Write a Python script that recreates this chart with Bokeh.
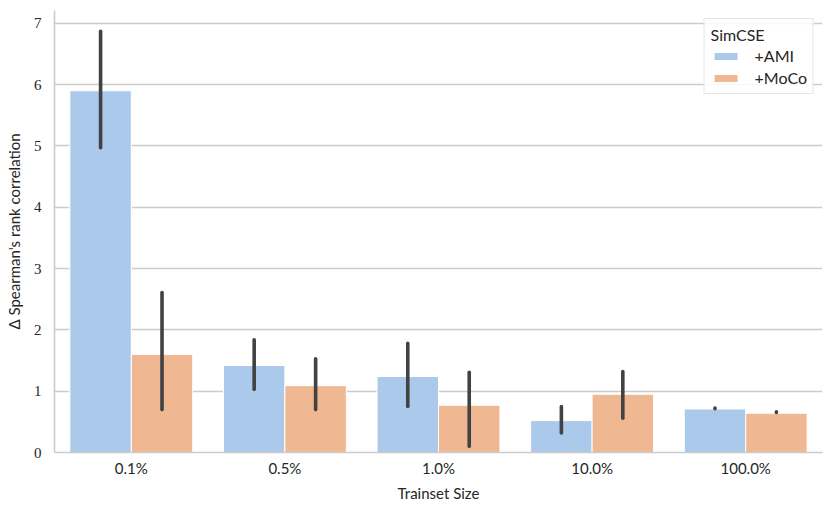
from bokeh.plotting import figure
from bokeh.models import ColumnDataSource, FactorRange, Range1d, Legend, LegendItem, FixedTicker
from bokeh.transform import dodge
from bokeh.embed import file_html
from bokeh.resources import INLINE

sizes = ["0.1%", "0.5%", "1.0%", "10.0%", "100.0%"]
ami_mean = [5.90, 1.42, 1.24, 0.52, 0.71]
ami_lo = [4.97, 1.03, 0.75, 0.32, 0.715]
ami_hi = [6.87, 1.84, 1.78, 0.75, 0.725]
moco_mean = [1.60, 1.09, 0.77, 0.95, 0.64]
moco_lo = [0.70, 0.70, 0.10, 0.56, 0.652]
moco_hi = [2.61, 1.53, 1.31, 1.32, 0.662]
y_ticks = [0, 1, 2, 3, 4, 5, 6, 7]

AMI_COLOR = "#abc9ea"
MOCO_COLOR = "#efb892"
ERR_COLOR = "#424242"
GRID = "#cccccc"
SANS = "Lato"
SERIF = "Liberation Serif"

src = ColumnDataSource(dict(size=sizes, ami=ami_mean, ami_lo=ami_lo, ami_hi=ami_hi,
                            moco=moco_mean, moco_lo=moco_lo, moco_hi=moco_hi))

p = figure(x_range=FactorRange(*sizes, range_padding=0), y_range=Range1d(0, 7.21),
           frame_width=768, frame_height=442, output_backend="svg", toolbar_location=None,
           min_border_left=54, min_border_right=1, min_border_top=10, min_border_bottom=45)

r_ami = p.vbar(x=dodge("size", -0.2, range=p.x_range), top="ami", width=0.4, source=src,
               fill_color=AMI_COLOR, line_color="white", line_width=1)
r_moco = p.vbar(x=dodge("size", 0.2, range=p.x_range), top="moco", width=0.4, source=src,
                fill_color=MOCO_COLOR, line_color="white", line_width=1)
p.segment(x0=dodge("size", -0.2, range=p.x_range), y0="ami_lo",
          x1=dodge("size", -0.2, range=p.x_range), y1="ami_hi", source=src,
          line_color=ERR_COLOR, line_width=3.6, line_cap="round")
p.segment(x0=dodge("size", 0.2, range=p.x_range), y0="moco_lo",
          x1=dodge("size", 0.2, range=p.x_range), y1="moco_hi", source=src,
          line_color=ERR_COLOR, line_width=3.6, line_cap="round")

p.outline_line_color = None
p.xgrid.grid_line_color = None
p.ygrid.grid_line_color = GRID
p.ygrid.grid_line_width = 1.3
p.yaxis.ticker = FixedTicker(ticks=y_ticks)

for ax in (p.xaxis[0], p.yaxis[0]):
    ax.axis_line_color = GRID
    ax.axis_line_width = 1.6
    ax.major_tick_line_color = None
    ax.minor_tick_line_color = None
    ax.major_tick_out = 0
    ax.major_tick_in = 0
    ax.major_label_text_color = "#262626"
    ax.axis_label_text_color = "#262626"
    ax.axis_label_text_font_style = "normal"
    ax.axis_label_text_font = SANS
    ax.axis_label_text_font_size = "15px"

p.xaxis.major_label_text_font = SANS
p.xaxis.major_label_text_font_size = "15px"
p.xaxis.major_label_standoff = 6
p.xaxis.axis_label = "Trainset Size"
p.xaxis.axis_label_standoff = 4

p.yaxis.major_label_text_font = SERIF
p.yaxis.major_label_text_font_size = "15px"
p.yaxis.major_label_standoff = 13
p.yaxis.axis_label = "Δ Spearman's rank correlation"
p.yaxis.axis_label_standoff = 8

legend = Legend(items=[LegendItem(label="+AMI", renderers=[r_ami]),
                       LegendItem(label="+MoCo", renderers=[r_moco])],
                location="top_right", title="SimCSE")
legend.title_text_font = SANS
legend.title_text_font_style = "normal"
legend.title_text_font_size = "16px"
legend.title_text_color = "#262626"
legend.title_standoff = 2
legend.label_text_font = SANS
legend.label_text_font_size = "16px"
legend.label_text_color = "#262626"
legend.label_height = 18
legend.glyph_width = 30
legend.glyph_height = 10
legend.label_standoff = 14
legend.spacing = 3
legend.padding = 6
legend.margin = 8
legend.border_line_color = GRID
legend.border_line_width = 1.2
legend.background_fill_alpha = 0.85
p.add_layout(legend)

open("out.html", "w").write(file_html(p, INLINE))
